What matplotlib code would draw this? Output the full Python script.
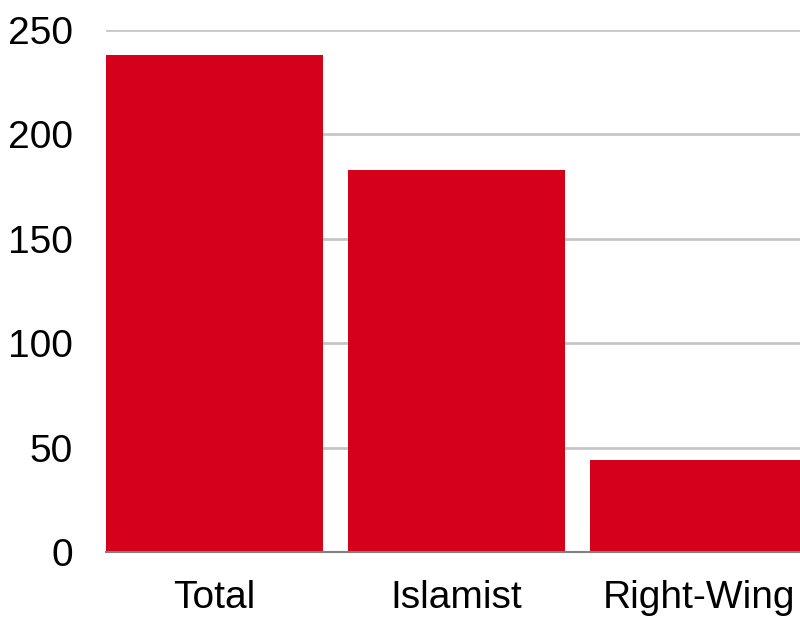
import matplotlib
matplotlib.use("Agg")
import matplotlib.pyplot as plt

categories = ["Total", "Islamist", "Right-Wing"]
values = [238, 183, 44]
yticks = [0, 50, 100, 150, 200, 250]

plt.rcParams['font.family'] = ['Liberation Sans', 'DejaVu Sans']

fig = plt.figure(figsize=(8, 6.17), dpi=100)
ax = fig.add_axes([106/800, 1 - 552/617, (800 - 106)/800, (552 - 30)/617])

w = 0.897
x = list(range(len(categories)))
ax.bar(x, values, width=w, color="#D50019", zorder=2)
ax.set_xlim(-w/2, -w/2 + 694/242)
ax.set_ylim(0, 250)
ax.set_yticks(yticks)
ax.set_xticks(x)
ax.set_xticklabels(categories)
ax.yaxis.grid(True, color="#C6C6C6", linewidth=2, zorder=0)
ax.set_axisbelow(True)
for s in ["top", "right", "left"]:
    ax.spines[s].set_visible(False)
ax.spines["bottom"].set_color("#808080")
ax.spines["bottom"].set_linewidth(1.5)
ax.spines["bottom"].set_zorder(3)
ax.tick_params(axis="both", length=0, labelsize=28, colors="black")
ax.tick_params(axis="y", pad=24)
ax.tick_params(axis="x", pad=20)

fig.savefig("out.png", dpi=100)
